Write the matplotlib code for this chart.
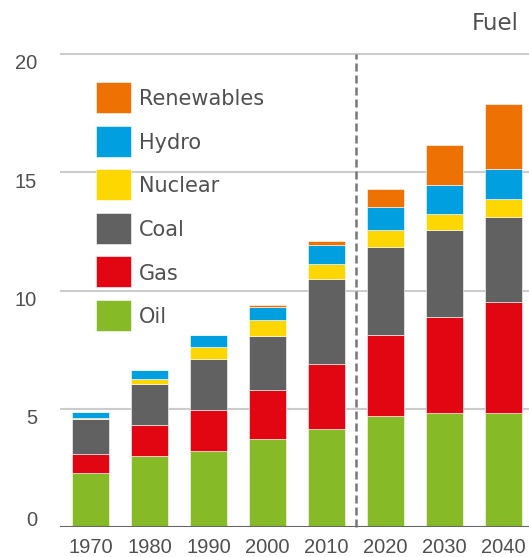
import matplotlib
matplotlib.use("Agg")
import matplotlib.pyplot as plt
import matplotlib.transforms as mtransforms
from matplotlib.patches import Rectangle
import numpy as np

years = ["1970", "1980", "1990", "2000", "2010", "2020", "2030", "2040"]
fuels = ["Oil", "Gas", "Coal", "Nuclear", "Hydro", "Renewables"]
oil        = [2.30, 3.01, 3.23, 3.72, 4.14, 4.71, 4.83, 4.83]
gas        = [0.80, 1.29, 1.70, 2.06, 2.77, 3.39, 4.04, 4.68]
coal       = [1.47, 1.75, 2.17, 2.31, 3.58, 3.73, 3.68, 3.59]
nuclear    = [0.02, 0.21, 0.50, 0.65, 0.64, 0.72, 0.68, 0.77]
hydro      = [0.26, 0.37, 0.51, 0.56, 0.78, 0.97, 1.22, 1.27]
renewables = [0.00, 0.00, 0.00, 0.07, 0.20, 0.77, 1.69, 2.75]
colors = {"Oil": "#86BB27", "Gas": "#E20613", "Coal": "#616161",
          "Nuclear": "#FFD700", "Hydro": "#009FDF", "Renewables": "#EE7203"}
yticks = [0, 5, 10, 15, 20]

plt.rcParams['font.family'] = ['Liberation Sans', 'DejaVu Sans']
TXT = "#505050"
W, H = 529, 557
fig = plt.figure(figsize=(W / 100, H / 100), dpi=100)
ax = fig.add_axes([60 / W, 30 / H, 469 / W, 20.5 * 23.65 / H])

x = np.arange(len(years))
series = [oil, gas, coal, nuclear, hydro, renewables]
bottom = np.zeros(len(years))
for name, vals in zip(fuels, series):
    v = np.array(vals)
    ax.bar(x, v, width=0.63, bottom=bottom, color=colors[name],
           edgecolor="white", linewidth=0.4, label=name, zorder=3)
    bottom += v

ax.set_xlim(-0.52, 7.43)
ax.set_ylim(0, 20.5)
ax.set_yticks(yticks)
ax.set_yticklabels([])
ax.set_xticks(x)
ax.set_xticklabels(years)
ax.tick_params(axis='both', length=0, labelsize=14.5, colors=TXT)
ax.tick_params(axis='x', pad=8)
for s in ax.spines.values():
    s.set_visible(False)
for t in yticks[1:]:
    ax.axhline(t, color="#CCCCCC", lw=1.5, zorder=1)
ax.axhline(0, color="#666666", lw=1.5, zorder=4)
ax.plot([4.5, 4.5], [0, 20], color="#777777", lw=1.8,
        linestyle=(0, (3.2, 1.6)), zorder=2, clip_on=False)

# y tick labels: tops aligned to gridlines, zero label sits on baseline
cap_pt = 14.5 * 0.716
for t in yticks:
    if t == 0:
        tr = mtransforms.offset_copy(ax.get_yaxis_transform(), fig=fig,
                                     x=-23 * 0.72, y=1 * 0.72, units='points')
    else:
        tr = mtransforms.offset_copy(ax.get_yaxis_transform(), fig=fig,
                                     x=-23 * 0.72, y=-(cap_pt + 1 * 0.72), units='points')
    ax.text(0, t, str(t), transform=tr, ha='right', va='baseline',
            fontsize=14.5, color=TXT)

# legend drawn as patches + labels, top to bottom: Renewables ... Oil
leg_order = fuels[::-1]
for i, name in enumerate(leg_order):
    top = 82 + i * 43.6
    fig.add_artist(Rectangle((96 / W, 1 - (top + 31) / H), 35 / W, 31 / H,
                             transform=fig.transFigure, facecolor=colors[name],
                             edgecolor="white", linewidth=0.4))
    fig.text(139 / W, 1 - (top + 15.5 + 7.6) / H, name, fontsize=15,
             family=['DejaVu Sans'], color=TXT, ha='left', va='baseline')

fig.text(472 / W, 1 - 29.5 / H, "Fuel", fontsize=16.5, family=['DejaVu Sans'],
         color=TXT, ha="left", va="baseline")

fig.savefig("out.png", dpi=100)
